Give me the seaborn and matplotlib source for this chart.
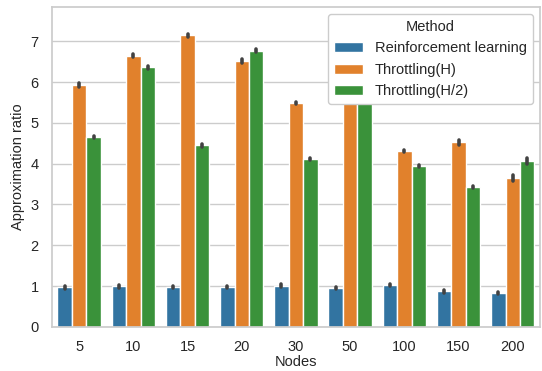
import numpy as np
import pandas as pd
import matplotlib
matplotlib.use("Agg")
import matplotlib.pyplot as plt
import seaborn as sns

nodes = ["5", "10", "15", "20", "30", "50", "100", "150", "200"]
methods = ["Reinforcement learning", "Throttling(H)", "Throttling(H/2)"]
rl_mean = [0.97, 0.99, 0.97, 0.98, 1.01, 0.95, 1.03, 0.87, 0.83]
th_mean = [5.92, 6.65, 7.15, 6.52, 5.49, 6.30, 4.31, 4.52, 3.65]
th2_mean = [4.65, 6.36, 4.45, 6.77, 4.12, 5.90, 3.94, 3.43, 4.06]
rl_err = [0.03, 0.03, 0.02, 0.02, 0.03, 0.03, 0.03, 0.03, 0.03]
th_err = [0.05, 0.04, 0.04, 0.05, 0.03, 0.04, 0.03, 0.07, 0.07]
th2_err = [0.03, 0.03, 0.03, 0.03, 0.03, 0.03, 0.03, 0.03, 0.07]

rows = []
for m, means, errs in zip(methods, [rl_mean, th_mean, th2_mean], [rl_err, th_err, th2_err]):
    for n, mu, e in zip(nodes, means, errs):
        rows.append({"Nodes": n, "Method": m, "Approximation ratio": mu - e})
        rows.append({"Nodes": n, "Method": m, "Approximation ratio": mu + e})
df = pd.DataFrame(rows)

sns.set_theme(style="whitegrid")
plt.rcParams["font.family"] = ["Liberation Sans", "DejaVu Sans"]

fig, ax = plt.subplots(figsize=(5.42, 3.71), dpi=100)
sns.barplot(data=df, x="Nodes", y="Approximation ratio", hue="Method",
            order=nodes, hue_order=methods, palette="tab10",
            errorbar=("pi", 100), err_kws={"linewidth": 2.6}, ax=ax)
ax.set_ylim(0, 7.84)
ax.set_xlabel("Nodes", fontsize=10.5, labelpad=1)
ax.set_ylabel("Approximation ratio", fontsize=10.5)
ax.tick_params(labelsize=10.5)
leg = ax.legend(title="Method", loc="upper right", framealpha=1, fontsize=10.5,
                title_fontsize=10.5)
fig.subplots_adjust(left=0.096, right=0.996, top=0.981, bottom=0.119)
fig.savefig("out.png", dpi=100)
